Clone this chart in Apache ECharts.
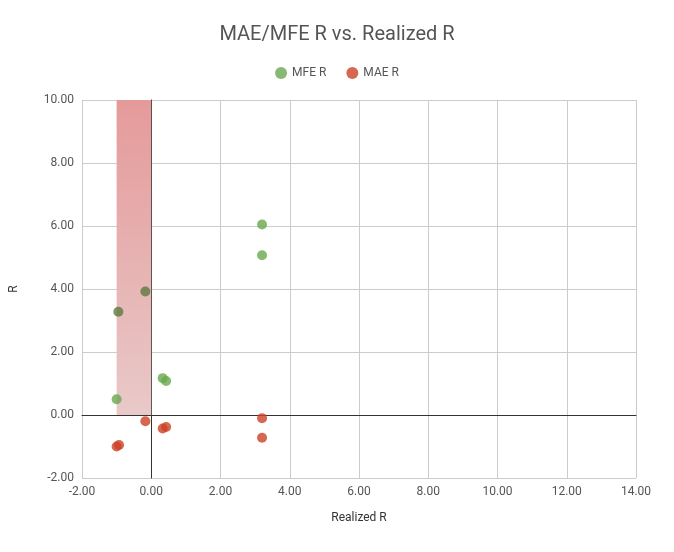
<!DOCTYPE html>
<html>
<head>
<meta charset="utf-8">
<script src="https://cdn.jsdelivr.net/npm/echarts@6/dist/echarts.min.js"></script>
<style>html,body{margin:0;padding:0;background:#fff}#main{width:674px;height:552px}</style>
</head>
<body>
<div id="main"></div>
<script>
var realized = [-1.0, -0.93, -0.17, 0.33, 0.43, 3.2, 3.2];
var mfeR = [0.5, 3.28, 3.92, 1.17, 1.08, 6.05, 5.07];
var maeR = [-1.0, -0.95, -0.2, -0.43, -0.38, -0.1, -0.72];
// points that sit inside the shaded band look darker
var mfeRealized = [-1.0, -0.95, -0.17, 0.33, 0.43, 3.2, 3.2];
var shadedMfe = [false, true, true, false, false, false, false];

var myChart = echarts.init(document.getElementById('main'));
var font = 'Roboto, Arial, sans-serif';

var option = {
    backgroundColor: '#fff',
    title: {
        text: 'MAE/MFE R vs. Realized R',
        left: 'center',
        top: 20,
        textStyle: {fontFamily: font, fontSize: 20, fontWeight: 'normal', color: '#555'}
    },
    legend: {
        top: 62,
        left: 'center',
        icon: 'circle',
        itemWidth: 12, itemHeight: 12,
        itemGap: 20,
        textStyle: {fontFamily: font, fontSize: 12, color: '#555'},
        data: ['MFE R', 'MAE R']
    },
    grid: {left: 79, right: 38, top: 100, bottom: 74},
    xAxis: {
        type: 'value', min: -2, max: 14, interval: 2,
        name: 'Realized R', nameLocation: 'middle', nameGap: 34,
        nameTextStyle: {fontFamily: font, fontSize: 12, color: '#333'},
        axisLine: {show: true, onZero: true, lineStyle: {color: '#333'}},
        axisTick: {show: false},
        axisLabel: {fontFamily: font, fontSize: 12, color: '#555', formatter: function (v) { return v.toFixed(2); }},
        splitLine: {lineStyle: {color: '#ccc'}}
    },
    yAxis: {
        type: 'value', min: -2, max: 10, interval: 2,
        name: 'R', nameLocation: 'middle', nameGap: 62,
        nameTextStyle: {fontFamily: font, fontSize: 12, color: '#333'},
        axisLine: {show: true, onZero: true, lineStyle: {color: '#333'}},
        axisTick: {show: false},
        axisLabel: {fontFamily: font, fontSize: 12, color: '#555', formatter: function (v) { return v.toFixed(2); }},
        splitLine: {lineStyle: {color: '#ccc'}}
    },
    series: [
        {
            name: 'MFE R', type: 'scatter', symbolSize: 10,
            itemStyle: {color: '#6aa84f'},
            data: mfeRealized.map(function (x, i) {
                return shadedMfe[i] ? {value: [x, mfeR[i]], itemStyle: {color: '#5b7a3c'}} : [x, mfeR[i]];
            }),
            markArea: {
                silent: true,
                z: 1,
                itemStyle: {
                    color: new echarts.graphic.LinearGradient(0, 0, 0, 1, [
                        {offset: 0, color: '#e59a9a'},
                        {offset: 1, color: '#e9c9c9'}
                    ])
                },
                data: [[{coord: [-1, 10]}, {coord: [0, 0]}]]
            },
            z: 3
        },
        {
            name: 'MAE R', type: 'scatter', symbolSize: 10,
            itemStyle: {color: '#cc4125'},
            data: realized.map(function (x, i) { return [x, maeR[i]]; }),
            z: 3
        }
    ]
};
myChart.setOption(option);
</script>
</body>
</html>
